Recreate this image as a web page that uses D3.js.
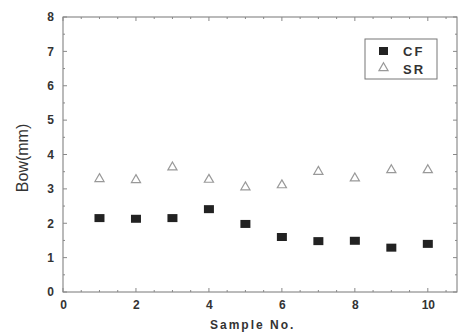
<!DOCTYPE html>
<html>
<head>
<meta charset="utf-8">
<script src="https://cdn.jsdelivr.net/npm/d3@7"></script>
<style>
  body { margin: 0; background: #fff; }
  text { font-family: "Liberation Sans", Arial, sans-serif; font-weight: bold; fill: #333; }
</style>
</head>
<body>
<div id="chart"></div>
<script>
// data
const samples = [1, 2, 3, 4, 5, 6, 7, 8, 9, 10];
const cfValues = [2.15, 2.13, 2.15, 2.41, 1.98, 1.6, 1.48, 1.49, 1.29, 1.4];
const srValues = [3.29, 3.26, 3.63, 3.27, 3.05, 3.11, 3.5, 3.31, 3.55, 3.55];
const xTicks = [0, 2, 4, 6, 8, 10];
const yTicks = [0, 1, 2, 3, 4, 5, 6, 7, 8];
const seriesNames = ["CF", "SR"];

const W = 461, H = 335;
const margin = { top: 17, right: 4, bottom: 43, left: 63 };
const width = W - margin.left - margin.right;
const height = H - margin.top - margin.bottom;

const svg = d3.select("#chart").append("svg")
  .attr("width", W)
  .attr("height", H);

const g = svg.append("g")
  .attr("transform", "translate(" + margin.left + "," + margin.top + ")");

const x = d3.scaleLinear().domain([0, 10.8]).range([0, width]);
const y = d3.scaleLinear().domain([0, 8]).range([height, 0]);

// frame
g.append("rect")
  .attr("width", width)
  .attr("height", height)
  .attr("fill", "none")
  .attr("stroke", "#777")
  .attr("stroke-width", 1);

// minor ticks (inside)
const xMinor = d3.range(0, 10.8, 0.5);
const yMinor = d3.range(0, 8.01, 0.5);
g.selectAll(".xminor").data(xMinor).enter().append("line")
  .attr("x1", d => x(d)).attr("x2", d => x(d))
  .attr("y1", height).attr("y2", d => height - (d % 2 === 0 ? 4 : 2))
  .attr("stroke", "#888");
g.selectAll(".xminortop").data(xMinor).enter().append("line")
  .attr("x1", d => x(d)).attr("x2", d => x(d))
  .attr("y1", 0).attr("y2", d => (d % 2 === 0 ? 4 : 2))
  .attr("stroke", "#888");
g.selectAll(".yminor").data(yMinor).enter().append("line")
  .attr("y1", d => y(d)).attr("y2", d => y(d))
  .attr("x1", 0).attr("x2", d => (d % 1 === 0 ? 4 : 2))
  .attr("stroke", "#888");
g.selectAll(".yminorright").data(yMinor).enter().append("line")
  .attr("y1", d => y(d)).attr("y2", d => y(d))
  .attr("x1", width).attr("x2", d => width - (d % 1 === 0 ? 4 : 2))
  .attr("stroke", "#888");

// axes labels
const xAxis = g.append("g")
  .attr("transform", "translate(0," + height + ")")
  .call(d3.axisBottom(x).tickValues(xTicks).tickSize(0).tickPadding(8).tickFormat(d3.format("d")));
xAxis.select(".domain").remove();
xAxis.selectAll("text").style("font-size", "12px").attr("fill", "#333");

const yAxis = g.append("g")
  .call(d3.axisLeft(y).tickValues(yTicks).tickSize(0).tickPadding(9).tickFormat(d3.format("d")));
yAxis.select(".domain").remove();
yAxis.selectAll("text").style("font-size", "12px").attr("fill", "#333");

// axis titles
svg.append("text")
  .attr("x", margin.left + x(5.2))
  .attr("y", 329)
  .attr("text-anchor", "middle")
  .style("font-size", "12px")
  .style("letter-spacing", "2px")
  .text("Sample No.");

svg.append("text")
  .attr("transform", "translate(28," + (margin.top + y(3.9)) + ") rotate(-90)")
  .attr("text-anchor", "middle")
  .style("font-size", "16px")
  .style("font-weight", "normal")
  .text("Bow(mm)");

// SR triangles
const tri = d3.symbol().type(d3.symbolTriangle).size(36);
g.selectAll(".sr").data(srValues).enter().append("path")
  .attr("class", "sr")
  .attr("d", tri)
  .attr("transform", (d, i) => "translate(" + x(samples[i]) + "," + y(d) + ")")
  .attr("fill", "none")
  .attr("stroke", "#999")
  .attr("stroke-width", 1.2);

// CF squares
const sq = 10;
g.selectAll(".cf").data(cfValues).enter().append("rect")
  .attr("class", "cf")
  .attr("x", (d, i) => x(samples[i]) - sq / 2)
  .attr("y", d => y(d) - sq / 2 + 1)
  .attr("width", sq)
  .attr("height", sq - 2)
  .attr("fill", "#222");

// legend
const legend = svg.append("g").attr("transform", "translate(365,39)");
legend.append("rect")
  .attr("width", 72).attr("height", 40)
  .attr("fill", "#fff").attr("stroke", "#777");
legend.append("rect")
  .attr("x", 14).attr("y", 8).attr("width", 9).attr("height", 8)
  .attr("fill", "#222");
legend.append("path")
  .attr("d", tri)
  .attr("transform", "translate(18.5,29)")
  .attr("fill", "none").attr("stroke", "#999").attr("stroke-width", 1.2);
legend.selectAll(".lt").data(seriesNames).enter().append("text")
  .attr("x", 38)
  .attr("y", (d, i) => 17 + i * 18)
  .style("font-size", "13px")
  .style("letter-spacing", "2px")
  .text(d => d);
</script>
</body>
</html>
